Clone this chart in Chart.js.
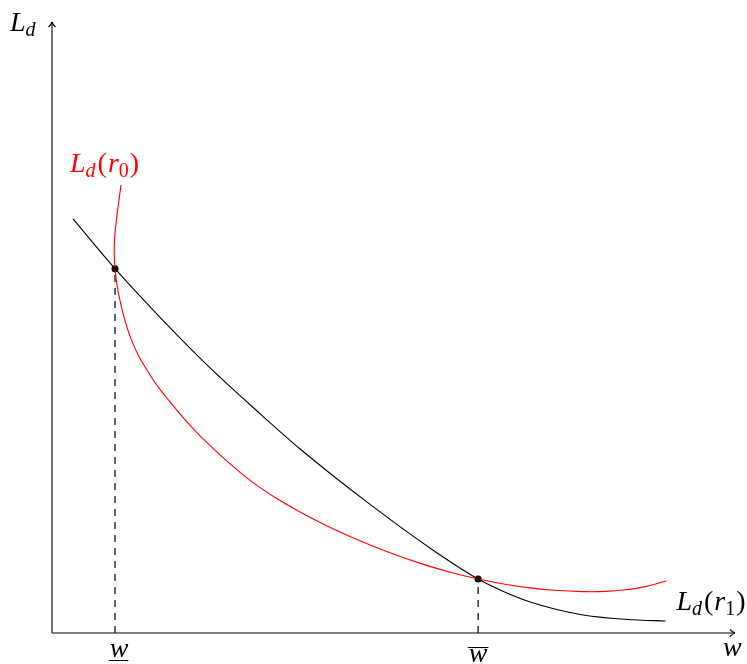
<!DOCTYPE html>
<html>
<head>
<meta charset="utf-8">
<script src="https://cdn.jsdelivr.net/npm/chart.js@4/dist/chart.umd.min.js"></script>
<style>
  html, body { margin: 0; padding: 0; background: #fff; }
  canvas { display: block; }
</style>
</head>
<body>
<canvas id="chart" width="747" height="664"></canvas>
<script>
// Axis ranges (data units)
const xMax = 11.38;
const yMax = 10.18;

// L_d(r_1) - black curve
const blackX = [0.35, 1.05, 1.80, 2.63, 3.47, 4.13, 5.25, 6.35, 7.10, 7.55, 8.02, 8.85, 9.68, 10.22];
const blackY = [6.90, 6.07, 5.26, 4.42, 3.65, 3.07, 2.18, 1.38, 0.90, 0.68, 0.50, 0.30, 0.22, 0.20];

// L_d(r_0) - red curve
const redX = [1.150, 1.117, 1.083, 1.055, 1.038, 1.038, 1.050, 1.083, 1.130, 1.213, 1.323, 1.453,
              1.613, 1.762, 1.925, 2.218, 2.483, 2.883, 3.300, 3.717, 4.133, 4.550, 4.967, 5.383,
              5.800, 6.217, 6.633, 7.100, 7.550, 7.967, 8.383, 8.850, 9.217, 9.550, 9.883, 10.233];
const redY = [7.467, 7.217, 6.967, 6.717, 6.467, 6.267, 6.067, 5.800, 5.550, 5.217, 4.883, 4.600,
              4.333, 4.108, 3.900, 3.550, 3.267, 2.892, 2.542, 2.257, 2.017, 1.800, 1.607, 1.432,
              1.275, 1.135, 1.013, 0.900, 0.812, 0.752, 0.712, 0.690, 0.693, 0.720, 0.773, 0.867];

// Intersection points (w_low, w_high)
const eqX = [1.05, 7.10];
const eqY = [6.07, 0.90];
const tickMarks = ["under", "over"];

const toPts = (xs, ys) => xs.map((x, i) => ({ x, y: ys[i] }));

const SERIF = '"Liberation Serif", "DejaVu Serif", serif';
const MAIN = 28, SUB = 20;

// draw a small math expression made of parts
function drawMath(ctx, parts, x, y, color) {
  ctx.save();
  ctx.fillStyle = color;
  ctx.textBaseline = "alphabetic";
  ctx.textAlign = "left";
  let cx = x;
  parts.forEach(p => {
    const size = p.sub ? SUB : MAIN;
    ctx.font = (p.it ? "italic " : "") + size + "px " + SERIF;
    ctx.fillText(p.t, cx, y + (p.sub ? 5 : 0));
    cx += ctx.measureText(p.t).width + (p.gap || 0);
  });
  ctx.restore();
  return cx - x;
}

function arrowHead(ctx, x, y, dir) {
  ctx.beginPath();
  if (dir === "up") {
    ctx.moveTo(x - 3.5, y + 5); ctx.quadraticCurveTo(x - 0.5, y + 2, x, y);
    ctx.moveTo(x + 3.5, y + 5); ctx.quadraticCurveTo(x + 0.5, y + 2, x, y);
  } else {
    ctx.moveTo(x - 5, y - 3.5); ctx.quadraticCurveTo(x - 2, y - 0.5, x, y);
    ctx.moveTo(x - 5, y + 3.5); ctx.quadraticCurveTo(x - 2, y + 0.5, x, y);
  }
  ctx.stroke();
}

const labelParts = sub => [
  { t: "L", it: true }, { t: "d", it: true, sub: true, gap: 2 }, { t: "(", gap: 1 },
  { t: "r", it: true }, { t: sub, sub: true, gap: 1 }, { t: ")" }
];

const decorPlugin = {
  id: "decor",
  beforeDatasetsDraw(chart) {
    const { ctx, scales: { x, y } } = chart;
    const x0 = x.getPixelForValue(0), y0 = y.getPixelForValue(0);
    const xEnd = x.getPixelForValue(xMax), yEnd = y.getPixelForValue(yMax);
    ctx.save();
    ctx.strokeStyle = "#000";
    ctx.lineWidth = 1.1;
    ctx.beginPath();
    ctx.moveTo(x0, y0); ctx.lineTo(x0, yEnd);
    ctx.moveTo(x0, y0); ctx.lineTo(xEnd, y0);
    ctx.stroke();
    arrowHead(ctx, x0, yEnd, "up");
    arrowHead(ctx, xEnd, y0, "right");
    ctx.restore();
  },
  afterDraw(chart) {
    const { ctx, scales: { x, y } } = chart;
    const x0 = x.getPixelForValue(0), y0 = y.getPixelForValue(0);
    const yEnd = y.getPixelForValue(yMax), xEnd = x.getPixelForValue(xMax);

    // axis labels
    drawMath(ctx, [{ t: "L", it: true }, { t: "d", it: true, sub: true }], x0 - 42, yEnd + 9, "#000");
    drawMath(ctx, [{ t: "w", it: true }], xEnd - 12, y0 + 23, "#000");

    // curve labels
    const rx = x.getPixelForValue(redX[0]), ry = y.getPixelForValue(redY[0]);
    drawMath(ctx, labelParts("0"), rx - 51, ry - 13, "#ff0000");
    const bx = x.getPixelForValue(blackX[blackX.length - 1]), by = y.getPixelForValue(blackY[blackY.length - 1]);
    drawMath(ctx, labelParts("1"), bx + 11, by - 11, "#000");

    // tick labels: w with under / over bar
    ctx.save();
    ctx.font = "italic " + MAIN + "px " + SERIF;
    ctx.fillStyle = "#000";
    ctx.strokeStyle = "#000";
    ctx.lineWidth = 1;
    eqX.forEach((v, i) => {
      const w = ctx.measureText("w").width;
      if (tickMarks[i] === "under") {
        const px = x.getPixelForValue(v) + 4;
        const base = y0 + 24;
        ctx.fillText("w", px - w / 2, base);
        ctx.beginPath();
        ctx.moveTo(px - w / 2 - 1, base + 3.5); ctx.lineTo(px + w / 2, base + 3.5);
        ctx.stroke();
      } else {
        const px = x.getPixelForValue(v);
        const base = y0 + 28.5;
        ctx.fillText("w", px - w / 2, base);
        ctx.beginPath();
        ctx.moveTo(px - w / 2 - 1, base - 14); ctx.lineTo(px + w / 2 + 1, base - 14);
        ctx.stroke();
      }
    });
    ctx.restore();
  }
};

const dashSets = eqX.map((v, i) => ({
  data: [{ x: v, y: 0 }, { x: v, y: eqY[i] }],
  showLine: true,
  borderColor: "#000",
  borderWidth: 1.2,
  borderDash: [7, 6],
  pointRadius: 0,
  tension: 0
}));

new Chart(document.getElementById("chart").getContext("2d"), {
  type: "scatter",
  data: {
    datasets: [
      {
        data: toPts(blackX, blackY),
        showLine: true,
        borderColor: "#000",
        borderWidth: 1.1,
        pointRadius: 0,
        cubicInterpolationMode: "monotone"
      },
      {
        data: toPts(redX, redY),
        showLine: true,
        borderColor: "#ff0000",
        borderWidth: 1.1,
        pointRadius: 0,
        tension: 0.35
      },
      ...dashSets,
      {
        data: toPts(eqX, eqY),
        showLine: false,
        pointRadius: 3.5,
        pointBackgroundColor: "#000",
        pointBorderColor: "#000",
        pointBorderWidth: 0
      }
    ]
  },
  options: {
    responsive: false,
    animation: false,
    layout: { padding: { left: 52, top: 22, right: 12, bottom: 31 } },
    plugins: { legend: { display: false }, tooltip: { enabled: false } },
    scales: {
      x: { type: "linear", min: 0, max: xMax, display: false },
      y: { type: "linear", min: 0, max: yMax, display: false }
    }
  },
  plugins: [decorPlugin]
});
</script>
</body>
</html>
